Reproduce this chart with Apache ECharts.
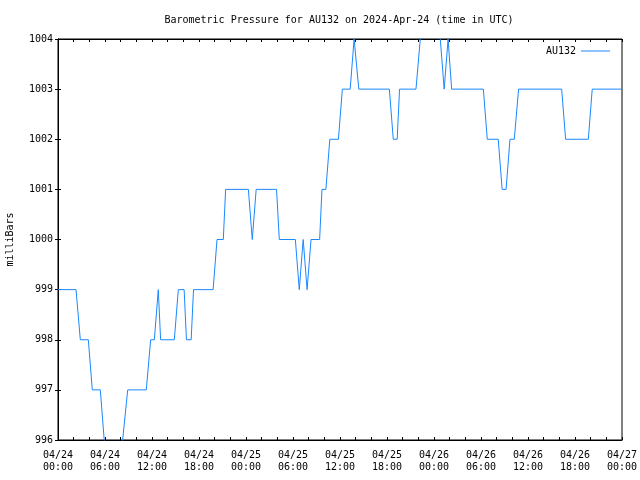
<!DOCTYPE html>
<html>
<head>
<meta charset="utf-8">
<script src="https://cdn.jsdelivr.net/npm/echarts@6/dist/echarts.min.js"></script>
<style>html,body{margin:0;padding:0;background:#fff;}#c{width:640px;height:480px;}</style>
</head>
<body>
<div id="c"></div>
<script>
// Hours since 2024-04-24 00:00 UTC
var hours = [0, 2.3, 2.85, 3.87, 4.38, 5.4, 5.9, 6.4, 7.7, 8.25, 8.9, 11.27, 11.83, 12.3, 12.8, 13.1,
  14.85, 15.36, 16.1, 16.4, 17.0, 17.3, 19.8, 20.3, 21.1, 21.4, 24.3, 24.8, 25.3, 27.9, 28.25,
  30.3, 30.8, 31.3, 31.8, 32.3, 33.4, 33.7, 34.2, 34.7, 35.8, 36.3, 37.3, 37.8, 38.4, 42.3, 42.8,
  43.3, 43.6, 45.7, 46.25, 46.75, 48.3, 48.8, 49.3, 49.8, 50.25, 54.3, 54.8, 56.2, 56.7, 57.2,
  57.7, 58.25, 58.8, 64.3, 64.8, 67.7, 68.2, 72];
var pressure = [999, 999, 998, 998, 997, 997, 996, 995, 995, 996, 997, 997, 998, 998, 999, 998,
  998, 999, 999, 998, 998, 999, 999, 1000, 1000, 1001, 1001, 1000, 1001, 1001, 1000,
  1000, 999, 1000, 999, 1000, 1000, 1001, 1001, 1002, 1002, 1003, 1003, 1004, 1003, 1003, 1002,
  1002, 1003, 1003, 1004, 1005, 1005, 1004, 1003, 1004, 1003, 1003, 1002, 1002, 1001, 1001,
  1002, 1002, 1003, 1003, 1002, 1002, 1003, 1003];
var xTickLabels = ['04/24\n00:00', '04/24\n06:00', '04/24\n12:00', '04/24\n18:00', '04/25\n00:00',
  '04/25\n06:00', '04/25\n12:00', '04/25\n18:00', '04/26\n00:00', '04/26\n06:00', '04/26\n12:00',
  '04/26\n18:00', '04/27\n00:00'];
var seriesName = 'AU132';
var titleText = 'Barometric Pressure for AU132 on 2024-Apr-24 (time in UTC)';
var yName = 'milliBars';

var FONT = 'DejaVu Sans Mono';
var data = hours.map(function (h, i) { return [h, pressure[i]]; });
var chart = echarts.init(document.getElementById('c'), null, {renderer: 'canvas'});
var tickCfg = {show: true, inside: true, length: 3, lineStyle: {color: '#000', width: 1}};
var minorCfg = {show: true, splitNumber: 3, length: 3, lineStyle: {color: '#000', width: 1}};
chart.setOption({
  animation: false,
  backgroundColor: '#fff',
  graphic: [{
    type: 'text', x: 339, y: 15,
    style: {text: titleText, font: '10px "DejaVu Sans Mono"', fill: '#000', textAlign: 'center', textVerticalAlign: 'top'}
  }],
  legend: {
    show: true, right: 25, top: 41, align: 'right', itemWidth: 29, itemHeight: 1, icon: 'rect',
    textStyle: {fontFamily: FONT, fontSize: 10, color: '#000'},
    data: [seriesName]
  },
  grid: {left: 58, right: 18, top: 39, bottom: 40, show: true, borderColor: '#000', borderWidth: 1,
    containLabel: false, outerBoundsMode: 'none'},
  xAxis: [{
    type: 'value', min: 0, max: 72, interval: 6,
    axisLine: {show: true, lineStyle: {color: '#000'}},
    axisTick: tickCfg, minorTick: minorCfg, splitLine: {show: false},
    axisLabel: {
      margin: 9, fontFamily: FONT, fontSize: 10, color: '#000', lineHeight: 12,
      formatter: function (v) { return xTickLabels[Math.round(v / 6)]; }
    }
  }, {
    type: 'value', min: 0, max: 72, interval: 6, position: 'top',
    axisLine: {show: true, lineStyle: {color: '#000'}},
    axisTick: tickCfg, minorTick: minorCfg, splitLine: {show: false}, axisLabel: {show: false}
  }],
  yAxis: [{
    type: 'value', min: 996, max: 1004, interval: 1,
    name: yName, nameLocation: 'middle', nameRotate: 90, nameGap: 43,
    nameTextStyle: {fontFamily: FONT, fontSize: 10, color: '#000'},
    axisLine: {show: true, lineStyle: {color: '#000'}},
    axisTick: tickCfg, splitLine: {show: false},
    axisLabel: {margin: 5, fontFamily: FONT, fontSize: 10, color: '#000',
      formatter: function (v) { return String(v); }}
  }, {
    type: 'value', min: 996, max: 1004, interval: 1, position: 'right',
    axisLine: {show: true, lineStyle: {color: '#000'}},
    axisTick: tickCfg, splitLine: {show: false}, axisLabel: {show: false}
  }],
  series: [{
    name: seriesName, type: 'line', data: data, symbol: 'none', clip: true,
    lineStyle: {color: '#1a88ff', width: 1}, itemStyle: {color: '#1a88ff'}
  }]
});
</script>
</body>
</html>
